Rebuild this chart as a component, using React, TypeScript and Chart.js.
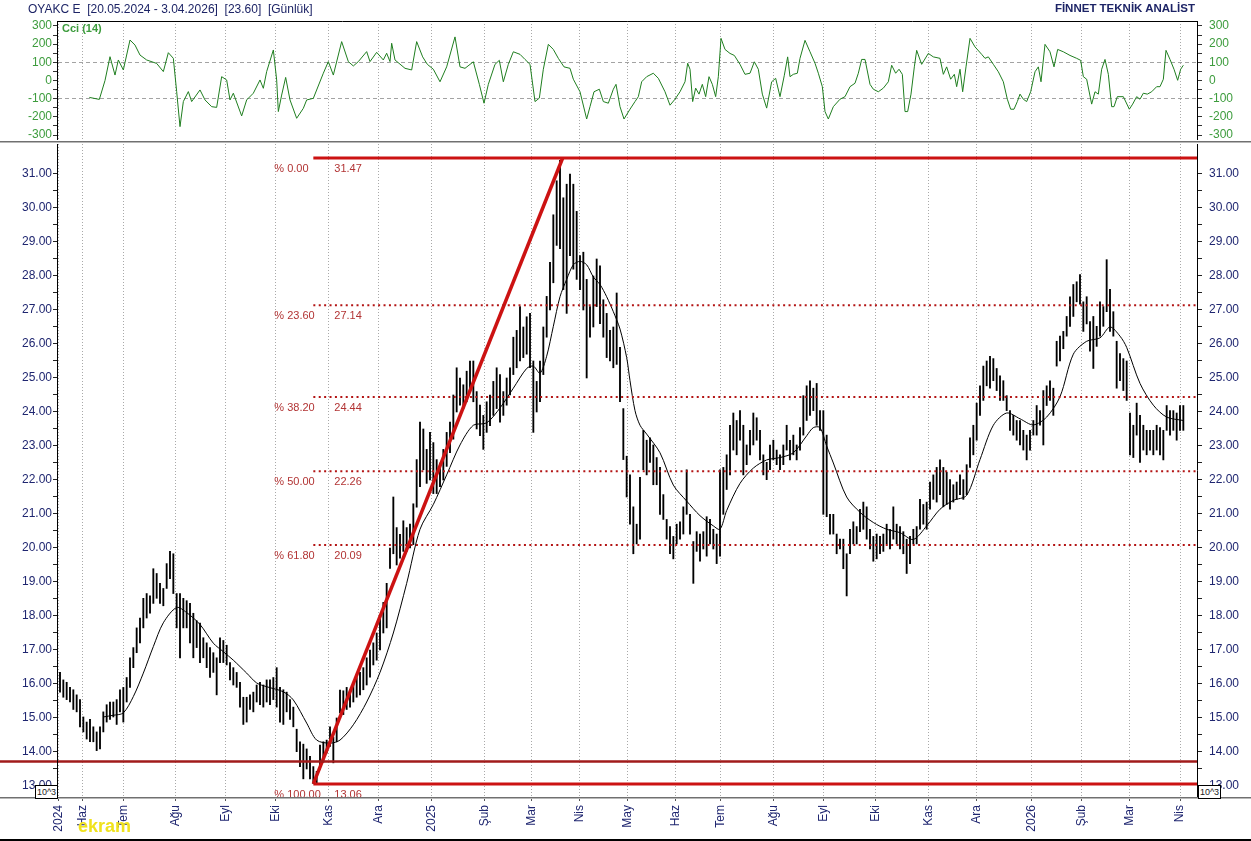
import React, { useEffect, useRef } from 'react';
import { Chart, registerables } from 'chart.js';

Chart.register(...registerables);

// ---------- DATA ----------
// one bar per index k (bar spacing in the source ~ 1.4 trading days)
const barHigh = [
  16.34,16.12,16.05,15.90,15.83,15.68,15.54,15.03,14.88,14.96,
  14.74,14.59,14.74,15.18,15.39,15.47,15.47,15.54,15.83,15.90,
  16.19,16.77,17.07,17.65,17.94,18.52,18.66,18.59,19.39,19.25,
  18.96,18.81,19.54,19.90,19.83,18.66,18.66,18.52,18.45,18.37,
  18.08,17.86,17.79,17.36,17.21,17.07,16.92,16.77,17.36,17.28,
  17.14,16.63,16.48,16.34,16.05,15.61,15.61,15.68,15.76,15.97,
  16.05,15.97,16.12,16.12,16.19,16.48,15.90,15.83,15.76,15.54,
  15.32,14.67,14.30,14.23,14.09,13.87,13.57,13.43,14.20,14.30,
  14.35,14.74,14.44,15.00,15.82,15.80,15.90,15.83,16.05,16.19,
  16.34,16.48,16.77,17.00,17.21,17.50,17.90,18.40,18.96,20.00,
  21.50,20.60,20.40,20.80,20.60,20.70,21.30,22.60,23.70,23.50,
  22.90,23.40,23.10,22.60,22.50,22.90,23.40,23.70,24.50,25.30,
  25.00,24.80,25.20,25.50,25.50,24.60,24.20,23.90,24.30,24.50,
  24.90,25.30,25.10,24.60,25.00,25.30,26.20,26.40,27.10,26.50,
  26.80,26.90,25.50,24.90,25.50,26.50,27.40,28.40,29.80,30.80,
  31.40,30.30,30.70,31.00,30.70,29.90,28.60,28.70,27.90,27.10,
  28.00,28.50,28.30,27.30,26.90,26.40,26.50,27.50,25.90,24.10,
  22.70,22.15,21.21,20.70,22.08,23.46,23.17,23.24,23.03,22.66,
  22.37,21.57,20.84,20.63,20.34,20.70,20.77,21.21,22.30,20.99,
  20.19,20.48,20.41,20.48,20.92,20.84,20.55,20.41,22.30,22.37,
  22.74,23.61,23.97,23.75,24.04,23.61,23.03,23.46,23.97,23.83,
  23.46,22.74,22.52,23.03,23.17,22.88,22.74,23.03,23.61,23.17,
  23.32,23.03,23.54,24.48,24.77,24.92,24.70,24.84,24.04,24.04,
  23.32,20.99,20.99,20.41,20.26,20.26,19.83,20.55,20.77,20.63,
  21.14,21.35,21.21,20.55,20.34,20.41,20.34,20.41,20.70,20.55,
  21.21,20.70,20.63,20.48,20.26,20.34,20.55,20.63,21.43,21.28,
  21.35,21.94,22.15,22.37,22.59,22.37,22.23,22.01,21.86,21.94,
  22.15,22.01,22.45,23.24,23.61,24.26,24.77,25.35,25.50,25.64,
  25.57,25.28,25.06,24.92,24.48,24.04,23.90,23.75,23.75,23.46,
  23.32,23.46,23.75,24.19,24.04,24.63,24.77,24.92,24.70,26.08,
  26.23,26.37,26.81,27.39,27.75,27.83,28.04,27.24,27.39,26.66,
  26.81,26.52,27.24,27.10,28.48,27.61,26.95,26.08,25.72,25.57,
  25.50,23.97,23.61,24.26,23.90,23.61,23.46,23.46,23.46,23.61,
  23.54,23.46,24.19,24.04,24.04,23.97,24.19,24.19,
];
const barLow = [
  15.76,15.61,15.54,15.47,15.25,15.18,14.74,14.59,14.38,14.30,
  14.30,14.04,14.09,14.59,14.88,14.96,15.03,14.81,15.18,14.88,
  15.47,15.90,16.48,16.92,17.21,17.65,17.94,18.08,18.37,18.52,
  18.37,18.30,18.81,19.10,18.66,17.65,16.77,17.65,17.65,17.21,
  16.77,17.07,16.63,16.77,16.48,16.19,16.34,15.68,16.63,16.63,
  16.56,16.12,15.97,15.90,15.32,14.81,14.88,15.25,15.18,15.47,
  15.39,15.32,15.47,15.39,15.54,15.32,14.88,14.81,15.18,14.96,
  14.74,14.01,13.57,13.21,13.50,13.21,13.07,13.07,13.50,13.70,
  13.97,14.16,13.68,14.30,15.15,15.10,15.25,15.32,15.47,15.61,
  15.68,15.83,15.97,16.20,16.56,16.70,17.00,17.50,17.65,19.40,
  19.83,19.50,19.70,19.90,19.90,20.00,20.10,21.20,21.80,22.30,
  21.90,22.00,21.60,21.60,21.80,22.00,22.40,22.80,23.20,24.00,
  24.20,24.10,24.30,24.60,24.30,23.50,23.30,22.90,23.40,23.60,
  23.90,24.10,23.70,23.90,24.20,24.50,25.10,25.30,25.50,25.60,
  25.70,25.30,23.40,24.00,24.30,25.10,26.20,27.00,27.80,28.90,
  28.80,27.60,26.90,28.60,28.20,27.90,27.60,27.00,25.00,26.20,
  26.50,27.10,26.60,26.20,25.60,25.50,25.30,25.40,24.30,22.60,
  21.50,20.70,19.83,20.12,20.26,22.30,22.15,22.52,21.86,21.86,
  20.99,20.84,20.26,19.83,19.68,20.12,20.26,20.41,20.99,20.41,
  18.96,19.90,19.61,19.97,19.76,20.12,19.97,19.54,19.76,20.99,
  21.72,22.15,22.88,22.74,23.17,22.15,22.45,22.74,23.03,23.17,
  22.59,22.15,22.01,22.30,22.59,22.45,22.30,22.45,22.88,22.59,
  22.74,22.59,22.88,23.32,23.75,23.90,24.04,23.61,23.46,20.99,
  20.92,20.41,20.41,19.83,19.97,19.39,18.59,19.83,20.12,20.12,
  20.48,20.55,20.26,19.97,19.61,19.68,19.83,19.90,20.12,19.97,
  20.26,20.12,19.97,19.83,19.25,19.54,20.12,20.12,20.55,20.70,
  20.55,21.14,21.43,21.35,21.57,21.21,21.28,21.14,21.35,21.43,
  21.57,21.43,21.57,22.37,22.74,23.17,23.90,24.34,24.77,24.70,
  24.92,24.63,24.34,24.34,24.04,23.46,23.32,23.17,23.03,22.88,
  22.59,22.88,23.32,23.32,23.61,23.03,24.19,24.34,23.90,25.35,
  25.50,25.86,26.23,26.52,26.81,27.24,27.17,26.37,26.59,25.79,
  25.28,25.93,26.23,26.52,26.95,26.37,26.23,24.70,24.92,24.63,
  24.34,22.74,22.66,23.32,22.52,22.88,22.74,22.88,22.74,22.88,
  22.74,22.59,23.46,23.32,23.46,23.17,23.46,23.46,
];

// moving average line (bar index, value)
const maIdx = [13,16,19,22,25,28,31,35,38,42,46,49,52,56,59,62,67,70,74,77,81,84,88,
  92,96,100,104,108,112,116,120,124,128,132,136,140,142,144,146,148,150,152,154,156,158,160,162,164,166,168,170,171,172.5,174,
  176,180,184,188,192,196,198,200,204,208,212,216,220,224,226,228,230,232,236,240,244,248,252,256,
  260,264,268,272,276,280,284,288,292,296,300,304,308,312,315,318,320,324,328,332,337];
const maVal = [15.03,15.08,15.15,15.63,16.32,17.10,17.80,18.25,18.10,17.75,17.20,16.95,16.70,16.32,16.03,15.92,15.77,15.53,14.85,14.35,14.26,14.35,14.80,
  15.47,16.34,17.50,18.96,20.55,21.28,22.15,23.03,23.61,23.68,24.12,24.70,25.28,25.35,25.14,25.64,26.52,27.39,27.90,28.33,28.43,28.33,27.97,27.75,27.39,26.95,26.44,25.60,24.92,24.04,23.61,
  23.35,22.80,21.85,21.38,20.95,20.65,20.55,21.10,21.90,22.35,22.59,22.66,22.80,23.30,23.54,23.54,23.00,22.50,21.50,21.05,20.75,20.55,20.45,20.25,
  20.65,21.14,21.40,21.55,22.60,23.61,23.97,23.80,23.62,23.85,24.45,25.70,26.08,26.18,26.50,26.23,25.90,24.84,24.20,23.85,23.75];

// CCI(14) line (bar index, value)
const cciIdx = [8.8,11.8,13.5,15,16.5,17.5,19,21,22.5,24,26,29,31,32.5,34,35,36,37,38.5,39.5,42,43.5,45.5,47,48.5,50,51,52,54.5,56,58,60,61,62,64,65,65.5,66.5,67.7,69,71,73,74,76,79,80.5,82,84.5,86.5,88,89.5,92,93,95,97,98,99,99.5,100.5,103.5,105.5,107,
  108.8,110.2,112,114,116,118.5,120,121.5,124,125.8,127.2,128.5,130.5,131.8,133,134.5,136,138,139.5,141,142.5,143.8,145,146.5,148,149.5,151.2,153,154,156,158,159,160.2,161.8,163,164.5,166,166.8,168,169.2,
  171,172.5,173.5,174.5,176,178,179.5,181.5,183,184.5,186,187.5,188.3,189,189.8,190.7,191.7,192.7,193.7,194.7,195.7,196.7,197.5,198.3,199.5,201,202.3,204,205.5,207,208.3,209.5,210.7,212,213.5,214.7,216,217.3,218.3,219,220,221.2,222,223.5,225,226.5,227.5,228.7,229.5,230.5,232,234,235.5,237,238.5,239.5,240.5,241.5,243,244,245.5,247,248.5,249.5,250.7,251.7,252.7,253.5,254.3,255.3,256.3,
  257,258.5,260.5,262,264,265,266,267.2,268.3,269,270,270.8,271.8,273,274.5,276.5,277.5,278.5,280,281.5,283,284.2,285.2,286.2,287.2,288,289,290,291.2,292.5,293.5,294.3,295.5,297,298.2,299.3,301,303,305,306.2,307,308,309.5,310.5,311.5,312.5,313.5,314.5,315.5,316.2,317.2,319,320.8,321.8,323,324,325,326.2,327.5,329,330,331,331.8,333,334.2,335.3,336.2,337];
const cciVal = [-93,-104,0,131,30,113,58,223,195,140,113,94,49,153,122,-61,-254,-116,-61,-116,-52,-107,-144,-148,21,3,-107,-70,-195,-107,-70,3,-43,49,168,3,-171,-80,17,-107,-208,-153,-107,-98,40,104,30,214,104,80,104,159,104,155,113,150,104,205,113,67,58,214,
  130,89,62,-7,75,240,75,67,103,-21,-125,-21,89,111,-7,89,158,144,116,89,-116,-97,62,199,171,122,75,67,7,-62,-212,-144,-62,-48,-116,-125,-48,-21,-144,-212,
  -158,-116,-89,-7,21,40,12,-62,-136,-103,-62,-7,95,62,-116,-42,-75,-21,-89,21,-21,-89,21,232,171,149,138,89,34,40,103,62,-75,-152,-7,12,-89,29,130,21,34,40,122,221,158,95,40,-34,-171,-212,-144,-103,-89,-34,-15,40,116,116,-21,-48,-62,-42,-7,84,40,62,34,-171,-171,-75,75,
  166,89,149,130,122,34,75,7,34,-34,62,-62,75,232,185,144,122,130,89,48,-7,-103,-158,-158,-116,-75,-103,-116,-62,48,75,-7,199,158,75,171,158,138,122,111,21,7,-130,-62,-75,62,116,34,-144,-144,-89,-89,-158,-130,-89,-103,-70,-75,-62,-34,-34,7,166,116,62,1,62,84];

// Fibonacci retracement drawn on the chart
const fibPct = ['0.00', '23.60', '38.20', '50.00', '61.80', '100.00'];
const fibLevels = [31.47, 27.14, 24.44, 22.26, 20.09, 13.06];
const fibStartIdx = 76;
const fibEndIdx = 150.8;
const supportLevel = 13.72;

// axes
const monthTickIdx = [-0.5, 6.8, 19.0, 34.7, 49.7, 64.8, 80.5, 95.7, 111.5, 127.3, 141.5, 156.0, 170.3, 184.6, 198.2, 214.0, 229.0, 244.8, 260.5, 275.0, 291.5, 306.5, 320.8, 336.0];
const monthLabels = ['2024', 'Haz', 'Tem', 'Ağu', 'Eyl', 'Eki', 'Kas', 'Ara', '2025', 'Şub', 'Mar', 'Nis', 'May', 'Haz', 'Tem', 'Ağu', 'Eyl', 'Eki', 'Kas', 'Ara', '2026', 'Şub', 'Mar', 'Nis'];
const priceTicks = [13, 14, 15, 16, 17, 18, 19, 20, 21, 22, 23, 24, 25, 26, 27, 28, 29, 30, 31];
const cciTicks = [-300, -200, -100, 0, 100, 200, 300];

const X_MIN = -0.6;
const X_MAX = 341.1;
const FONT = '"Liberation Sans", Arial, sans-serif';
const NAVY = '#1f2670';
const CCI_GREEN = '#3d9c3d';

Chart.defaults.font.family = FONT;
Chart.defaults.font.size = 12;

const zeroPad = (s: any) => {
  s.paddingTop = 0;
  s.paddingBottom = 0;
  s.paddingLeft = 0;
  s.paddingRight = 0;
};

const framePlugin = (drawTop: boolean) => ({
  id: 'frame' + (drawTop ? 'T' : 'M'),
  afterDraw(chart: any) {
    const { ctx, chartArea: a } = chart;
    ctx.save();
    ctx.strokeStyle = '#000';
    ctx.lineWidth = 1;
    ctx.beginPath();
    const l = Math.round(a.left) - 0.5;
    const r = Math.round(a.right) + 0.5;
    ctx.moveTo(l, a.top);
    ctx.lineTo(l, a.bottom);
    ctx.moveTo(r, a.top);
    ctx.lineTo(r, a.bottom);
    if (drawTop) {
      ctx.moveTo(l, Math.round(a.top) + 0.5);
      ctx.lineTo(r, Math.round(a.top) + 0.5);
    }
    ctx.stroke();
    ctx.restore();
  },
});

const fibPlugin = {
  id: 'fibDecor',
  afterDatasetsDraw(chart: any) {
    const { ctx, chartArea: a, scales } = chart;
    const x = scales.x;
    const y = scales.y;
    ctx.save();
    // support line across the whole width
    const sy = y.getPixelForValue(supportLevel);
    ctx.strokeStyle = '#a11b1b';
    ctx.lineWidth = 2.5;
    ctx.beginPath();
    ctx.moveTo(0, sy);
    ctx.lineTo(a.right, sy);
    ctx.stroke();
    // labels
    ctx.beginPath();
    ctx.rect(a.left, a.top, a.right - a.left, a.bottom - a.top);
    ctx.clip();
    ctx.font = '11px ' + FONT;
    ctx.fillStyle = '#b23434';
    ctx.textBaseline = 'middle';
    ctx.textAlign = 'left';
    const fx = x.getPixelForValue(fibStartIdx);
    fibLevels.forEach((lv, i) => {
      const py = y.getPixelForValue(lv) + 11;
      ctx.fillText('% ' + fibPct[i], fx - 39, py);
      ctx.fillText(lv.toFixed(2), fx + 21, py);
    });
    ctx.restore();
  },
};

function xScale(withLabels: boolean): any {
  return {
    type: 'linear',
    min: X_MIN,
    max: X_MAX,
    offset: false,
    afterBuildTicks: (s: any) => {
      s.ticks = monthTickIdx.map((v) => ({ value: v }));
    },
    afterFit: (s: any) => {
      s.height = withLabels ? 44 : 0;
      zeroPad(s);
    },
    ticks: withLabels
      ? {
          autoSkip: false,
          minRotation: 90,
          maxRotation: 90,
          padding: 4,
          color: NAVY,
          font: { size: 12 },
          callback: (_v: any, i: number) => monthLabels[i],
        }
      : { display: false },
    grid: {
      offset: false,
      color: '#a9a9a9',
      lineWidth: 1,
      drawTicks: withLabels,
      tickLength: 4,
      tickColor: '#555',
    },
    border: { display: false, dash: [1, 2] },
  };
}

function priceAxis(position: 'left' | 'right'): any {
  return {
    position,
    min: 12.676,
    max: 31.882,
    afterBuildTicks: (s: any) => {
      const t: any[] = [];
      priceTicks.forEach((v, i) => {
        t.push({ value: v });
        if (i < priceTicks.length - 1) t.push({ value: v + 0.5 });
      });
      s.ticks = t;
    },
    afterFit: (s: any) => {
      s.width = position === 'left' ? 58 : 54;
      zeroPad(s);
    },
    ticks: {
      autoSkip: false,
      color: NAVY,
      font: { size: 12 },
      padding: position === 'left' ? 1 : 7,
      callback: (v: number) => (priceTicks.includes(v) ? v.toFixed(2) : ''),
    },
    grid: { drawOnChartArea: false, tickLength: 5, tickColor: '#222' },
    border: { display: false },
  };
}

function cciAxis(position: 'left' | 'right'): any {
  return {
    position,
    min: -327.5,
    max: 327.5,
    afterBuildTicks: (s: any) => {
      const t: any[] = [];
      cciTicks.forEach((v, i) => {
        t.push({ value: v });
        if (i < cciTicks.length - 1) t.push({ value: v + 50 });
      });
      s.ticks = t;
    },
    afterFit: (s: any) => {
      s.width = position === 'left' ? 58 : 54;
      zeroPad(s);
    },
    ticks: {
      autoSkip: false,
      color: CCI_GREEN,
      font: { size: 12 },
      padding: position === 'left' ? 1 : 7,
      callback: (v: number) => (cciTicks.includes(v) ? String(v) : ''),
    },
    grid: {
      drawOnChartArea: position === 'left',
      color: (c: any) => (c.tick && Math.abs(c.tick.value) === 100 ? '#a3a3a3' : 'rgba(0,0,0,0)'),
      tickLength: 5,
      tickColor: '#333',
    },
    border: { display: false, dash: [4, 3] },
  };
}

export default function App() {
  const cciRef = useRef<HTMLCanvasElement>(null);
  const mainRef = useRef<HTMLCanvasElement>(null);

  useEffect(() => {
    const cciChart = new Chart(cciRef.current as HTMLCanvasElement, {
      type: 'line',
      data: {
        datasets: [
          {
            data: cciIdx.map((k, i) => ({ x: k, y: cciVal[i] })),
            borderColor: '#1f7e1f',
            borderWidth: 1,
            pointRadius: 0,
            tension: 0,
          } as any,
        ],
      },
      options: {
        responsive: false,
        animation: false,
        events: [],
        layout: { padding: { top: 7, bottom: 2, left: 0, right: 0 } },
        plugins: { legend: { display: false }, tooltip: { enabled: false } },
        scales: {
          x: xScale(false),
          y: cciAxis('left'),
          y2: cciAxis('right'),
        },
      } as any,
      plugins: [framePlugin(true)],
    });

    const bars = barHigh.map((h, k) => ({ x: k, y: [barLow[k], h] }));
    const fibSets = fibLevels.map((lv, i) => {
      const solid = i === 0 || i === fibLevels.length - 1;
      return {
        type: 'line',
        data: [
          { x: fibStartIdx, y: lv },
          { x: X_MAX, y: lv },
        ],
        borderColor: solid ? '#cc1212' : '#b31414',
        borderWidth: solid ? 3 : 2,
        borderDash: solid ? [] : [2, 3.4],
        pointRadius: 0,
        order: 0,
      };
    });

    const mainChart = new Chart(mainRef.current as HTMLCanvasElement, {
      type: 'bar',
      data: {
        datasets: [
          ...fibSets,
          {
            type: 'line',
            data: [
              { x: fibStartIdx, y: fibLevels[fibLevels.length - 1] },
              { x: fibEndIdx, y: fibLevels[0] },
            ],
            borderColor: '#cc1212',
            borderWidth: 3.5,
            pointRadius: 0,
            order: 0,
          },
          {
            type: 'line',
            data: maIdx.map((k, i) => ({ x: k, y: maVal[i] })),
            borderColor: '#000',
            borderWidth: 1,
            pointRadius: 0,
            tension: 0.3,
            order: 1,
          },
          {
            type: 'bar',
            data: bars,
            backgroundColor: '#000',
            borderWidth: 0,
            barThickness: 1.2,
            order: 2,
          },
        ] as any,
      },
      options: {
        responsive: false,
        animation: false,
        events: [],
        layout: { padding: { top: 1, bottom: 0, left: 0, right: 0 } },
        plugins: { legend: { display: false }, tooltip: { enabled: false } },
        scales: {
          x: xScale(true),
          y: priceAxis('left'),
          y2: priceAxis('right'),
        },
      } as any,
      plugins: [fibPlugin, framePlugin(false)],
    });

    return () => {
      cciChart.destroy();
      mainChart.destroy();
    };
  }, []);

  const box: React.CSSProperties = {
    position: 'absolute',
    width: 21,
    height: 12,
    border: '1px solid #000',
    background: '#fff',
    fontSize: 9,
    lineHeight: '12px',
    textAlign: 'center',
    color: '#222',
    fontFamily: FONT,
  };

  return (
    <div
      style={{
        position: 'fixed',
        left: 0,
        top: 0,
        width: 1251,
        height: 841,
        background: '#fff',
        overflow: 'hidden',
        fontFamily: FONT,
      }}
    >
      <canvas
        ref={cciRef}
        width={1251}
        height={128}
        style={{ position: 'absolute', left: 0, top: 14, width: 1251, height: 128, display: 'block' }}
      />
      <canvas
        ref={mainRef}
        width={1251}
        height={698}
        style={{ position: 'absolute', left: 0, top: 143, width: 1251, height: 698, display: 'block' }}
      />
      <div
        style={{
          position: 'absolute',
          left: 28,
          top: 3,
          fontSize: 12,
          lineHeight: 1,
          color: '#1d2466',
          whiteSpace: 'pre',
        }}
      >
        {'OYAKC E  [20.05.2024 - 3.04.2026]  [23.60]  [Günlük]'}
      </div>
      <div
        style={{
          position: 'absolute',
          right: 1251 - 1195,
          top: 3,
          fontSize: 11.5,
          lineHeight: 1,
          fontWeight: 'bold',
          color: '#1d2466',
          whiteSpace: 'pre',
        }}
      >
        FİNNET TEKNİK ANALİST
      </div>
      <div
        style={{
          position: 'absolute',
          left: 62,
          top: 23,
          fontSize: 11,
          lineHeight: 1,
          fontWeight: 'bold',
          color: CCI_GREEN,
        }}
      >
        Cci (14)
      </div>
      {/* panel separators */}
      <div style={{ position: 'absolute', left: 0, top: 141, width: 1251, height: 1, background: '#707070' }} />
      <div style={{ position: 'absolute', left: 0, top: 142, width: 1251, height: 1, background: '#b8b8b8' }} />
      <div style={{ position: 'absolute', left: 0, top: 797, width: 1251, height: 1, background: '#707070' }} />
      <div style={{ position: 'absolute', left: 0, top: 798, width: 1251, height: 1, background: '#b8b8b8' }} />
      <div style={{ position: 'absolute', left: 0, top: 839, width: 1251, height: 2, background: '#000' }} />
      <div style={{ ...box, left: 35, top: 785 }}>10^3</div>
      <div style={{ ...box, left: 1198, top: 785 }}>10^3</div>
      <div
        style={{
          position: 'absolute',
          left: 78,
          top: 817,
          fontSize: 18,
          lineHeight: 1,
          fontWeight: 'bold',
          color: '#f0e21c',
        }}
      >
        ekram
      </div>
    </div>
  );
}
